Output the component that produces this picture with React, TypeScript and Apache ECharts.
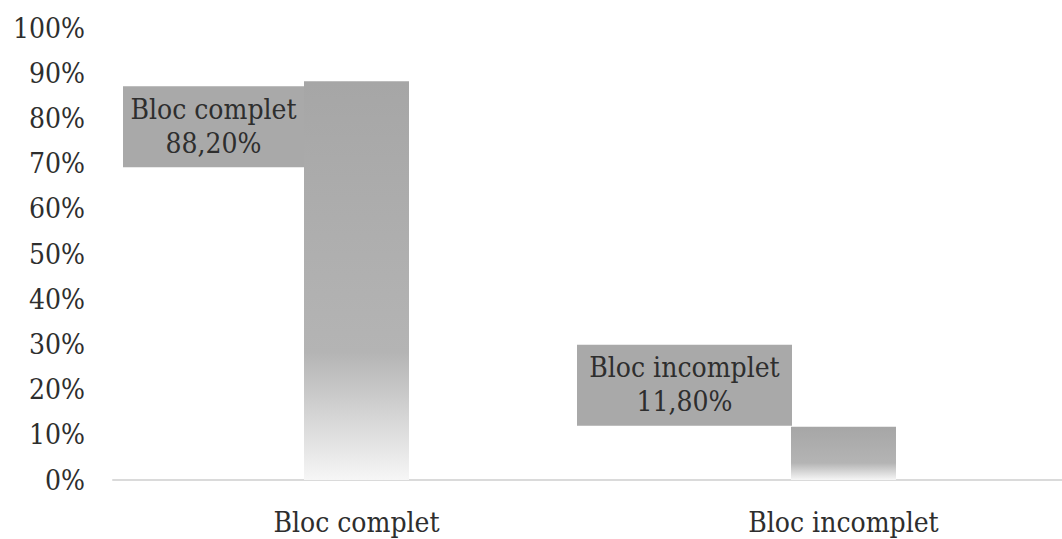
import React, { useEffect, useRef } from "react";
import * as echarts from "echarts";

// Bloc complet vs bloc incomplet, shares in percent
const categories: string[] = ["Bloc complet", "Bloc incomplet"];
const shares: number[] = [88.2, 11.8];

// Callout placement relative to each bar's top-left corner
const calloutOffsets: [number, number][] = [
  [-181, 5],
  [-214, -82],
];
const calloutWidths: number[] = [181, 215];

const FONT = "DejaVu Serif Condensed, DejaVu Serif";
const TEXT = "#2e2e2e";
const SIZE = 28;

const formatShare = (v: number) => `${v.toFixed(2).replace(".", ",")}%`;

export default function App() {
  const ref = useRef<HTMLDivElement>(null);

  useEffect(() => {
    if (!ref.current) return;
    const chart = echarts.init(ref.current, undefined, { renderer: "svg" });

    // grey bars fading to white towards the baseline
    const barFill = new echarts.graphic.LinearGradient(0, 0, 0, 1, [
      { offset: 0, color: "#a6a6a6" },
      { offset: 0.68, color: "#b4b4b4" },
      { offset: 1, color: "#f6f6f6" },
    ]);

    const data = shares.map((v, i) => ({
      value: v,
      name: categories[i],
      label: {
        show: true,
        position: calloutOffsets[i],
        align: "left",
        verticalAlign: "top",
        backgroundColor: "#a9a9a9",
        padding: [6, 0, 7, 0],
        fontFamily: FONT,
        formatter: (p: any) => `{t|${p.name}}\n{t|${formatShare(p.value)}}`,
        rich: {
          t: {
            width: calloutWidths[i],
            align: "center",
            fontSize: SIZE,
            lineHeight: 34,
            fontFamily: FONT,
            color: TEXT,
          },
        },
      },
    }));

    chart.setOption({
      animation: false,
      backgroundColor: "#ffffff",
      textStyle: { fontFamily: FONT },
      grid: {
        left: 113,
        width: 974,
        top: 28,
        bottom: 59,
        outerBoundsMode: "none",
        containLabel: false,
      },
      xAxis: {
        type: "category",
        data: categories,
        axisLine: { show: true, lineStyle: { color: "#dadada", width: 2 } },
        axisTick: { show: false },
        axisLabel: {
          margin: 28,
          fontSize: SIZE,
          fontFamily: FONT,
          color: TEXT,
        },
        splitLine: { show: false },
      },
      yAxis: {
        type: "value",
        min: 0,
        max: 100,
        interval: 10,
        axisLine: { show: false },
        axisTick: { show: false },
        splitLine: { show: false },
        axisLabel: {
          margin: 28,
          fontSize: SIZE,
          fontFamily: FONT,
          color: TEXT,
          formatter: "{value}%",
        },
      },
      series: [
        {
          type: "bar",
          barWidth: 105,
          itemStyle: { color: barFill },
          data,
        },
      ],
    });

    return () => chart.dispose();
  }, []);

  return (
    <div
      ref={ref}
      style={{ position: "fixed", left: 0, top: 0, width: 1062, height: 539 }}
    />
  );
}
